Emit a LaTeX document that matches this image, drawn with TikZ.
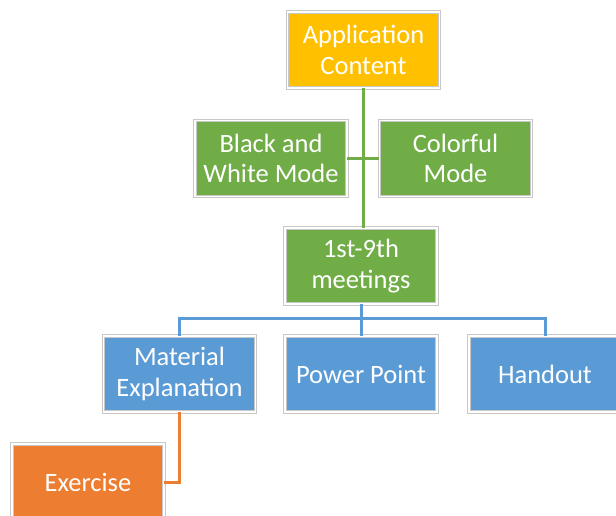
\documentclass[tikz,border=0pt]{standalone}
\usepackage{fontspec}
\setmainfont{Carlito}
\definecolor{cgold}{HTML}{FFC000}
\definecolor{cgreen}{HTML}{70AD47}
\definecolor{cblue}{HTML}{5B9BD5}
\definecolor{corange}{HTML}{ED7D31}
\definecolor{cedge}{HTML}{C8C8C8}
\begin{document}
\begin{tikzpicture}[x=1pt,y=-1pt,
  box/.style={rectangle, draw=cedge, line width=0.8pt, double=white, double distance=1.6pt,
    minimum width=152pt, minimum height=76pt, inner sep=0pt, align=center,
    text=white, font=\fontsize{26.5}{30.5}\selectfont},
  conn/.style={line width=3pt}]
\useasboundingbox (0,0) rectangle (616,516);
\node[box, fill=cgold] (app) at (363.5,50) {Application\\Content};
\node[box, fill=cgreen] (bw) at (271,158.5) {Black and\\White Mode};
\node[box, fill=cgreen] (col) at (455.5,158.5) {Colorful\\Mode};
\node[box, fill=cgreen] (meet) at (361,266) {1st-9th\\meetings};
\node[box, fill=cblue] (mat) at (179.5,374) {Material\\Explanation};
\node[box, fill=cblue] (pp) at (361,374) {Power Point};
\node[box, fill=cblue] (hand) at (545,374) {Handout};
\node[box, fill=corange] (ex) at (88,482) {Exercise};
\coordinate (gx) at (363,0);
\draw[conn, cgreen] (gx |- app.south) -- (gx |- meet.north);
\draw[conn, cgreen] (bw.east) -- (col.west);
\draw[conn, cblue] (meet.south) -- ++(0,14) coordinate (bus);
\draw[conn, cblue] (mat.north) |- (bus) -| (hand.north);
\draw[conn, cblue] (bus) -- (pp.north);
\draw[conn, corange] (mat.south) |- (ex.east);
\end{tikzpicture}
\end{document}
